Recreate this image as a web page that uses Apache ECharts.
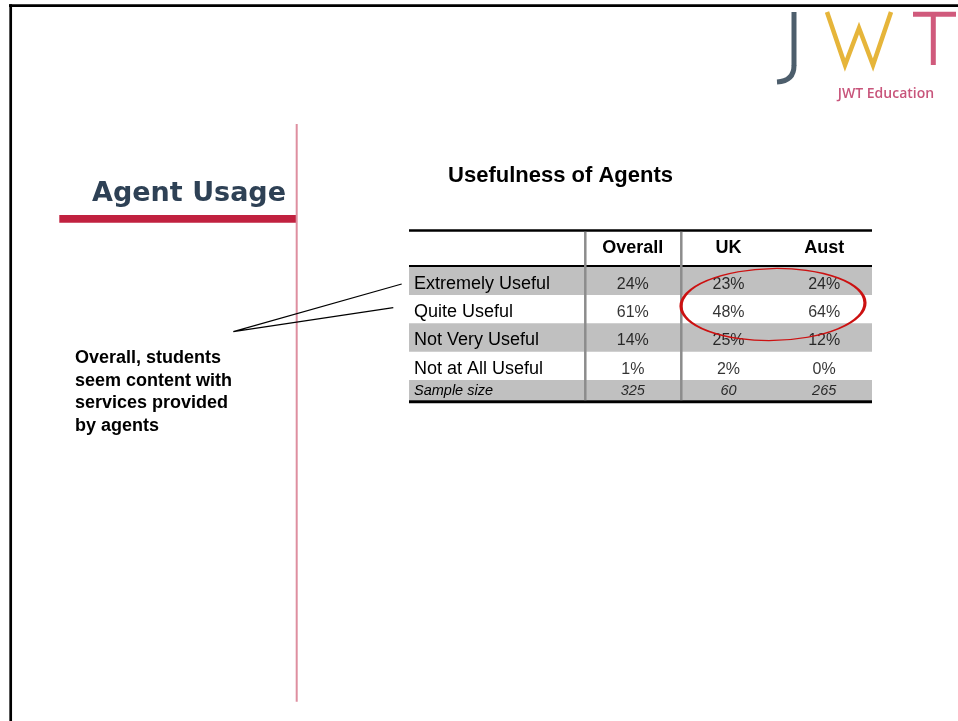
<!doctype html>
<html>
<head>
<meta charset="utf-8">
<title>Usefulness of Agents</title>
<script src="https://cdn.jsdelivr.net/npm/echarts@6.0.0/dist/echarts.min.js"></script>
<style>
    html, body { margin: 0; padding: 0; background: #fff; }
    #chart { width: 958px; height: 721px; }
</style>
</head>
<body>
<div id="chart"></div>
<script>
    // table values
    var columns = ['Overall', 'UK', 'Aust'];
    var rows = ['Extremely Useful', 'Quite Useful', 'Not Very Useful', 'Not at All Useful'];
    var overall = [24, 61, 14, 1];
    var uk = [23, 48, 25, 2];
    var aust = [24, 64, 12, 0];
    var sampleLabel = ['Sample size'];
    var sampleSize = [325, 60, 265];
    var shadedRows = ['Extremely Useful', 'Not Very Useful'];

    var FONT = '"Liberation Sans", Arial, sans-serif';
    var tableLeft = 409, tableRight = 872;

    var cellData = [];
    [overall, uk, aust].forEach(function (col, i) {
        col.forEach(function (v, j) {
            cellData.push([columns[i], rows[j], v]);
        });
    });
    var sampleData = sampleSize.map(function (v, i) {
        return [columns[i], sampleLabel[0], v];
    });

    // grey row background across the full table width
    function band(params, api) {
        var c = api.coord([0, api.value(1)]);
        var h = api.size([0, 1])[1];
        return {
            type: 'rect',
            shape: {x: tableLeft, y: c[1] - h / 2, width: tableRight - tableLeft, height: h},
            style: {fill: '#c0c0c0'}
        };
    }

    function line(x1, y1, x2, y2, w, color) {
        return {
            type: 'line', z: 100, silent: true,
            shape: {x1: x1, y1: y1, x2: x2, y2: y2},
            style: {stroke: color || '#000', lineWidth: w}
        };
    }

    var myChart = echarts.init(document.getElementById('chart'));
    var option = {
        animation: false,
        backgroundColor: '#fff',
        grid: [
            {left: 585, top: 266.7, width: 287, height: 113.3},
            {left: 585, top: 380, width: 287, height: 20.5}
        ],
        xAxis: [
            {
                gridIndex: 0, type: 'category', data: columns, position: 'top', z: 10,
                axisLine: {show: false}, axisTick: {show: false}, splitLine: {show: false},
                axisLabel: {
                    interval: 0, color: '#000', fontFamily: FONT, fontSize: 18, fontWeight: 'bold',
                    margin: 18.4, verticalAlign: 'middle'
                }
            },
            {
                gridIndex: 1, type: 'category', data: columns, show: false
            }
        ],
        yAxis: [
            {
                gridIndex: 0, type: 'category', data: rows, inverse: true, z: 10,
                axisLine: {show: false}, axisTick: {show: false}, splitLine: {show: false},
                axisLabel: {
                    interval: 0, hideOverlap: false, showMinLabel: true, showMaxLabel: true,
                    align: 'left', margin: 171,
                    formatter: function (v) { return '{a|' + v + '}'; },
                    rich: {a: {color: '#000', fontFamily: FONT, fontSize: 18, padding: [5.6, 0, 0, 0]}}
                }
            },
            {
                gridIndex: 1, type: 'category', data: sampleLabel, z: 10,
                axisLine: {show: false}, axisTick: {show: false}, splitLine: {show: false},
                axisLabel: {
                    interval: 0, hideOverlap: false, showMinLabel: true, showMaxLabel: true,
                    align: 'left', margin: 171,
                    formatter: function (v) { return '{a|' + v + '}'; },
                    rich: {a: {color: '#000', fontFamily: FONT, fontSize: 14.5, fontStyle: 'italic', padding: [2, 0, 0, 0]}}
                }
            }
        ],
        series: [
            {
                type: 'custom', xAxisIndex: 0, yAxisIndex: 0, silent: true, z: 1,
                renderItem: band, encode: {x: 0, y: 1},
                data: shadedRows.map(function (r) { return [0, rows.indexOf(r)]; })
            },
            {
                type: 'custom', xAxisIndex: 1, yAxisIndex: 1, silent: true, z: 1,
                renderItem: band, encode: {x: 0, y: 1},
                data: [[0, 0]]
            },
            {
                type: 'scatter', xAxisIndex: 0, yAxisIndex: 0, silent: true, z: 5,
                symbolSize: 1, itemStyle: {color: 'rgba(0,0,0,0)'},
                label: {
                    show: true, position: 'inside', offset: [0, 3.5],
                    color: '#000', fontFamily: FONT, fontSize: 16,
                    formatter: function (p) { return p.value[2] + '%'; }
                },
                data: cellData
            },
            {
                type: 'scatter', xAxisIndex: 1, yAxisIndex: 1, silent: true, z: 5,
                symbolSize: 1, itemStyle: {color: 'rgba(0,0,0,0)'},
                label: {
                    show: true, position: 'inside', offset: [0, 1.2],
                    color: '#000', fontFamily: FONT, fontSize: 14.5, fontStyle: 'italic',
                    formatter: function (p) { return p.value[2]; }
                },
                data: sampleData
            }
        ],
        graphic: [
            // slide frame
            line(9, 5.7, 958, 5.7, 2.7),
            line(10.7, 4.3, 10.7, 721, 2.7),
            // logo
            line(794, 12, 794, 66, 5, '#4d5e6c'),
            {
                type: 'bezierCurve', z: 100, silent: true,
                shape: {x1: 794, y1: 65.5, cpx1: 794, cpy1: 81, x2: 777, y2: 82},
                style: {fill: 'none', stroke: '#4d5e6c', lineWidth: 5}
            },
            {
                type: 'polyline', z: 100, silent: true,
                shape: {points: [[827, 12], [845, 65], [859, 28], [873, 65], [891, 12]]},
                style: {fill: 'none', stroke: '#e6b53a', lineWidth: 4.5}
            },
            line(913, 14.3, 956, 14.3, 5, '#d05a7c'),
            line(933.3, 12, 933.3, 65, 5, '#d05a7c'),
            {
                type: 'text', z: 100, silent: true,
                style: {
                    x: 886, y: 94, text: 'JWT Education', align: 'center', verticalAlign: 'middle',
                    font: '600 14px "Open Sans", sans-serif', fill: '#c8557b'
                }
            },
            // section heading
            {
                type: 'text', z: 100, silent: true,
                style: {
                    x: 286, y: 194, text: 'Agent Usage', align: 'right', verticalAlign: 'middle',
                    font: 'bold 27px "DejaVu Sans", Verdana, sans-serif', fill: '#2e4155'
                }
            },
            {
                type: 'rect', z: 100, silent: true,
                shape: {x: 59.3, y: 215, width: 237.4, height: 7.7},
                style: {fill: '#c1213f'}
            },
            line(296.7, 124, 296.7, 701.7, 2, '#de8fa0'),
            // chart title
            {
                type: 'text', z: 100, silent: true,
                style: {
                    x: 560.5, y: 176, text: 'Usefulness of Agents', align: 'center', verticalAlign: 'middle',
                    font: 'bold 22px ' + FONT, fill: '#000'
                }
            },
            // comment and pointer lines
            {
                type: 'text', z: 100, silent: true,
                style: {
                    x: 75, y: 346.5, text: 'Overall, students\nseem content with\nservices provided\nby agents',
                    align: 'left', verticalAlign: 'top', lineHeight: 22.7,
                    font: 'bold 18px ' + FONT, fill: '#000'
                }
            },
            {
                type: 'polyline', z: 100, silent: true,
                shape: {points: [[401.7, 284], [233.3, 331.7], [393.3, 307.7]]},
                style: {fill: 'none', stroke: '#000', lineWidth: 1.2}
            },
            // table rules
            line(tableLeft, 230.5, tableRight, 230.5, 2.7),
            line(tableLeft, 266, tableRight, 266, 2),
            line(tableLeft, 401.7, tableRight, 401.7, 3),
            line(585.3, 231.8, 585.3, 400.2, 2.5, '#8c8c8c'),
            line(681.3, 231.8, 681.3, 400.2, 2.5, '#8c8c8c'),
            // highlight ellipse (circle stretched horizontally)
            {
                type: 'circle', z: 110, silent: true,
                x: 773, y: 304.5, rotation: 0.02, scaleX: 92 / 36,
                shape: {cx: 0, cy: 0, r: 36},
                style: {fill: 'none', stroke: '#cc1111', lineWidth: 2, strokeNoScale: true}
            }
        ]
    };
    myChart.setOption(option);
</script>
</body>
</html>
